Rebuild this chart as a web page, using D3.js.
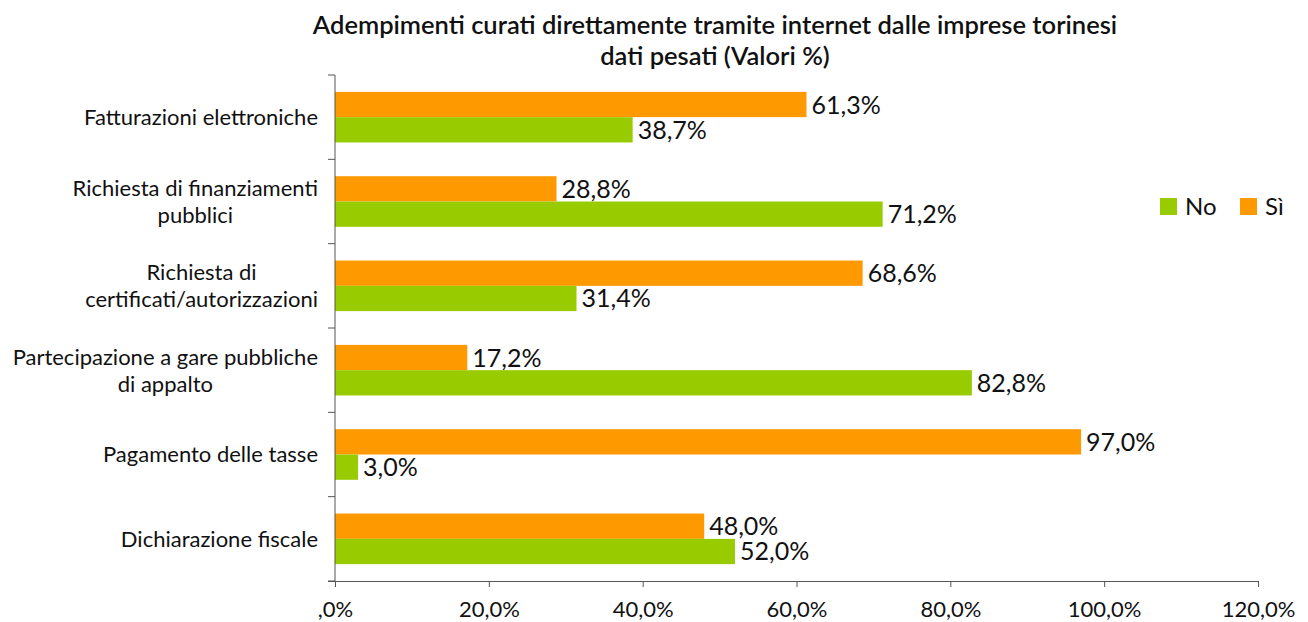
<!DOCTYPE html>
<html>
<head>
<meta charset="utf-8">
<script src="https://cdn.jsdelivr.net/npm/d3@7"></script>
<style>
  body { margin: 0; background: #fff; }
  text { font-family: "Lato", "Liberation Sans", sans-serif; fill: #111; }
</style>
</head>
<body>
<svg id="chart" width="1308" height="622"></svg>
<script>
// data
const categories = [
  "Fatturazioni elettroniche",
  "Richiesta di finanziamenti\npubblici",
  "Richiesta di\ncertificati/autorizzazioni",
  "Partecipazione a gare pubbliche\ndi appalto",
  "Pagamento delle tasse",
  "Dichiarazione fiscale"
];
const siValues = [61.3, 28.8, 68.6, 17.2, 97.0, 48.0];
const noValues = [38.7, 71.2, 31.4, 82.8, 3.0, 52.0];
const seriesNames = ["Sì", "No"];
const legendOrder = ["No", "Sì"];
const xTicks = [0, 20, 40, 60, 80, 100, 120];
const xTickLabels = [",0%", "20,0%", "40,0%", "60,0%", "80,0%", "100,0%", "120,0%"];
const titleLines = [
  "Adempimenti curati direttamente tramite internet dalle imprese torinesi",
  "dati pesati (Valori %)"
];

const colors = {"Sì": "#ff9900", "No": "#99cc00"};
const values = {"Sì": siValues, "No": noValues};

const margin = {top: 75, right: 50, bottom: 41, left: 335},
    width = 1308,
    height = 622,
    innerW = 1258 - margin.left,
    innerH = 581 - margin.top;

const svg = d3.select("#chart");

// title
svg.append("g")
    .selectAll("text")
    .data(titleLines)
    .enter().append("text")
    .attr("x", 715)
    .attr("y", (d, i) => 34 + i * 31)
    .attr("text-anchor", "middle")
    .style("font-size", "25.5px")
    .style("font-weight", "600")
    .text(d => d);

const g = svg.append("g")
    .attr("transform", `translate(${margin.left},${margin.top})`);

const x = d3.scaleLinear()
    .domain([0, 120])
    .range([0, innerW]);

const y = d3.scaleBand()
    .domain(categories)
    .range([0, innerH])
    .paddingInner(0.4)
    .paddingOuter(0.2);

const ySub = d3.scaleBand()
    .domain(seriesNames)
    .range([0, y.bandwidth()]);

const rows = categories.map((c, i) => ({cat: c, i: i}));

const groups = g.selectAll("g.row")
    .data(rows)
    .enter().append("g")
    .attr("class", "row")
    .attr("transform", d => `translate(0,${y(d.cat)})`);

seriesNames.forEach(s => {
  groups.append("rect")
      .attr("x", 0)
      .attr("y", ySub(s))
      .attr("width", d => x(values[s][d.i]))
      .attr("height", ySub.bandwidth())
      .attr("fill", colors[s]);

  groups.append("text")
      .attr("x", d => x(values[s][d.i]) + 5)
      .attr("y", ySub(s) + ySub.bandwidth() / 2)
      .attr("dy", "0.36em")
      .style("font-size", "25px")
      .text(d => d3.format(".1f")(values[s][d.i]).replace(".", ",") + "%");
});

// y axis: line plus ticks at band boundaries
const bounds = d3.range(categories.length + 1).map(i => i * innerH / categories.length);
g.append("line")
    .attr("x1", 0).attr("x2", 0)
    .attr("y1", 0).attr("y2", innerH)
    .attr("stroke", "#555");
g.selectAll("line.ytick")
    .data(bounds)
    .enter().append("line")
    .attr("class", "ytick")
    .attr("x1", -7).attr("x2", 0)
    .attr("y1", d => d).attr("y2", d => d)
    .attr("stroke", "#555");

// category labels, lines centred within a right-aligned block
const labelRight = -17;
g.selectAll("g.cat")
    .data(rows)
    .enter().append("g")
    .attr("class", "cat")
    .each(function(d) {
      const lines = d.cat.split("\n");
      const t = d3.select(this).append("text")
          .style("font-size", "22px")
          .attr("text-anchor", "middle");
      const cy = y(d.cat) + y.bandwidth() / 2;
      const lh = 27;
      const tspans = lines.map((l, k) => t.append("tspan")
          .attr("y", cy + (k - (lines.length - 1) / 2) * lh)
          .attr("dy", "0.36em")
          .text(l));
      const maxW = d3.max(tspans, ts => ts.node().getComputedTextLength());
      tspans.forEach(ts => ts.attr("x", labelRight - maxW / 2));
    });

// x axis
const xAxis = d3.axisBottom(x)
    .tickValues(xTicks)
    .tickSize(6)
    .tickFormat((d, i) => xTickLabels[i]);
const xg = g.append("g")
    .attr("transform", `translate(0,${innerH})`)
    .call(xAxis);
xg.select(".domain").attr("stroke", "#555").attr("d", `M-7,0.5H${innerW}`);
xg.selectAll(".tick line").attr("stroke", "#555");
xg.selectAll(".tick text")
    .attr("y", 20)
    .style("font-size", "22px")
    .style("font-family", "Lato, sans-serif")
    .attr("fill", "#111");

// legend
const legend = svg.append("g")
    .attr("transform", "translate(1160,198)");
const lx = [0, 80];
legendOrder.forEach((s, i) => {
  legend.append("rect")
      .attr("x", lx[i]).attr("y", 0)
      .attr("width", 17).attr("height", 17)
      .attr("fill", colors[s]);
  legend.append("text")
      .attr("x", lx[i] + 25)
      .attr("y", 8.5)
      .attr("dy", "0.36em")
      .style("font-size", "24px")
      .text(s);
});
</script>
</body>
</html>
